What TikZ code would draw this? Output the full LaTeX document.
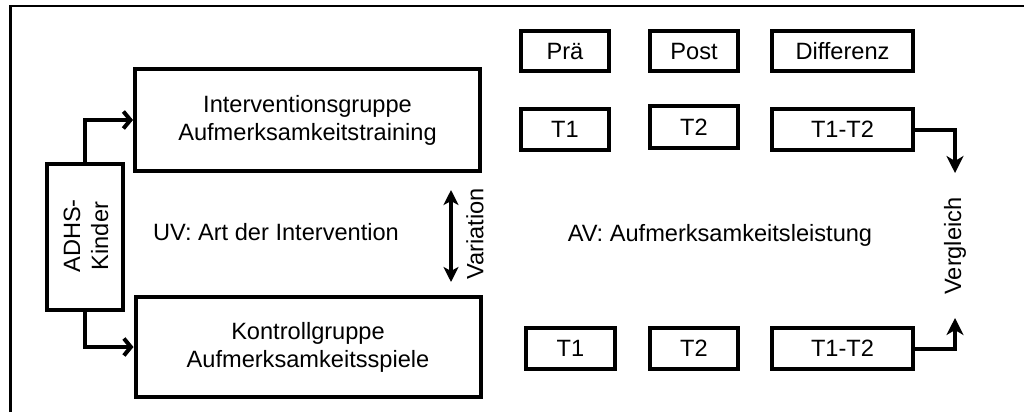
\documentclass[tikz,border=0pt]{standalone}
\usepackage{fontspec}
\setmainfont{Liberation Sans}
\usetikzlibrary{arrows.meta}
\begin{document}
\begin{tikzpicture}[x=1pt,y=-1pt,
  every node/.style={font=\fontsize{23.6}{28}\selectfont, inner sep=0pt, align=center},
  box/.style={draw, line width=4pt},
  bigbox/.style={box, minimum width=345pt, minimum height=102pt},
  smallbox/.style={box, minimum width=88pt, minimum height=41pt},
  diffbox/.style={box, minimum width=141pt, minimum height=41pt},
  harrow/.style={line width=4pt, -{Straight Barb[length=7pt,width=17pt]}},
  varrow/.style={line width=4pt, -{Stealth[length=17pt,width=17pt,inset=5pt]}},
  darrow/.style={line width=4pt, {Stealth[length=15pt,width=15pt,inset=4pt]}-{Stealth[length=15pt,width=15pt,inset=4pt]}}
]
\useasboundingbox (0,0) rectangle (1024,412);
\fill[white] (0,0) rectangle (1024,412);
% frame (top and left edges)
\draw[line width=2.5pt] (10.5,412) -- (10.5,6) -- (1024,6);

% left part
\node[bigbox] (int) at (307.5,120) {Interventionsgruppe\\Aufmerksamkeitstraining};
\node[bigbox, minimum height=100pt] (kon) at (308,347) {Kontrollgruppe\\Aufmerksamkeitsspiele};
\node[box, minimum width=76pt, minimum height=146pt] (adhs) at (85,237) {};
\node[rotate=90] (adhst) at (86,236) {ADHS-\\Kinder};
\node (uv) at (276,232) {UV: Art der Intervention};
\coordinate (v1) at (451,190);
\coordinate (v2) at (451,282);
\node[rotate=90] (vart) at (475,234) {Variation};

\draw[harrow] (adhs.north) |- (int.west);
\draw[harrow] (adhs.south) |- (kon.west);
\draw[darrow] (v1) -- (v2);

% right part
\node[smallbox, minimum height=40pt] (pra) at (565,51) {Prä};
\node[smallbox, minimum height=40pt] (post) at (694,51) {Post};
\node[diffbox, minimum height=40pt] (diff) at (842.5,51) {Differenz};
\node[smallbox] (t1a) at (565,129.5) {T1};
\node[smallbox, minimum height=42pt] (t2a) at (694,127) {T2};
\node[diffbox] (da) at (842.5,129.5) {T1-T2};
\node[smallbox, minimum width=89pt] (t1b) at (570.5,348.5) {T1};
\node[smallbox] (t2b) at (694,348.5) {T2};
\node[diffbox] (db) at (842.5,348.5) {T1-T2};
\node (av) at (720,235) {AV: Aufmerksamkeitsleistung};
\coordinate (vg1) at (955,173);
\coordinate (vg2) at (955,318);
\node[rotate=90] (vgt) at (955,246) {Vergleich};

\draw[varrow] (da.east) -| (vg1);
\draw[varrow] (db.east) -| (vg2);
\end{tikzpicture}
\end{document}
